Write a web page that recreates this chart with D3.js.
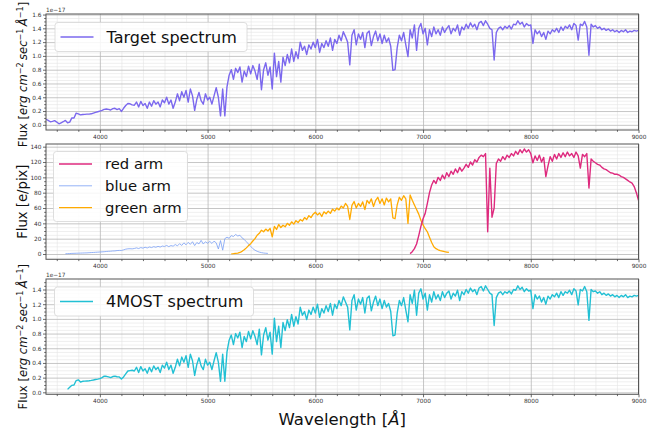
<!DOCTYPE html>
<html><head><meta charset="utf-8">
<script src="https://cdn.jsdelivr.net/npm/d3@7"></script>
<style>
body{margin:0;background:#fff}
svg{display:block}
text{font-family:"DejaVu Sans",sans-serif}
</style>
</head><body>
<svg id="chart" width="659" height="428"></svg>
<script>
// ---------------- data ----------------
const xTicks = [4000, 5000, 6000, 7000, 8000, 9000];
const fluxTicksTop = [0, 0.2, 0.4, 0.6, 0.8, 1.0, 1.2, 1.4, 1.6];
const countTicks = [0, 20, 40, 60, 80, 100, 120, 140];
const fluxTicksBottom = [0, 0.2, 0.4, 0.6, 0.8, 1.0, 1.2, 1.4];
const sampleStep = 20; // Angstrom between samples

// Target spectrum (1e-17 erg/cm2/s/A), from 3500 A
const targetStart = 3500;
const targetFlux = [
 .08,.065,.045,.05,.06,.04,.015,.03,.045,.065,
 .03,.04,.10,.10,.17,.16,.145,.15,.152,.155,
 .156,.16,.17,.18,.19,.20,.21,.225,.23,.225,
 .215,.235,.24,.222,.235,.195,.24,.28,.31,.305,
 .29,.285,.33,.26,.34,.28,.31,.24,.33,.27,
 .35,.30,.33,.26,.36,.32,.40,.30,.36,.24,
 .33,.45,.35,.48,.40,.50,.33,.52,.42,.21,
 .37,.47,.35,.30,.45,.36,.40,.30,.42,.54,
 .40,.13,.52,.13,.55,.72,.80,.66,.82,.76,
 .84,.62,.78,.70,.85,.74,.86,.78,.66,.88,
 .51,.80,.90,.72,.84,.52,1.04,.70,.92,.62,
 .98,.86,1.02,.90,1.10,.92,1.06,.96,1.20,1.08,
 1.14,1.02,1.16,1.10,1.20,1.12,1.24,1.05,1.18,1.12,
 1.22,1.14,1.26,1.08,1.24,1.18,1.30,1.22,1.35,1.28,
 1.20,.87,1.30,1.38,1.16,1.32,1.24,1.34,1.12,1.33,
 1.36,1.15,1.28,1.36,1.22,1.32,1.18,1.30,1.20,1.26,
 1.14,.79,.80,1.12,1.30,1.22,1.34,1.16,.99,1.38,
 1.26,1.45,1.08,1.40,1.47,1.32,1.40,1.16,1.38,1.28,
 1.42,1.32,1.38,1.30,1.42,1.34,1.40,1.44,1.32,1.40,
 1.36,1.45,1.30,1.42,1.38,1.46,1.40,1.48,1.42,1.46,
 1.38,1.48,1.50,1.44,1.51,1.46,1.40,1.38,.94,1.34,
 1.40,1.42,1.38,1.43,1.40,1.44,1.39,1.46,1.45,1.51,
 1.46,1.49,1.42,1.47,1.44,1.45,1.18,1.38,1.32,1.36,
 1.28,1.34,1.24,1.36,1.32,1.38,1.35,1.40,1.34,1.42,
 1.37,1.43,1.40,1.45,1.38,1.47,1.44,1.23,1.46,1.44,
 1.50,1.42,1.01,1.46,1.42,1.44,1.40,1.42,1.38,1.40,
 1.37,1.39,1.36,1.38,1.35,1.37,1.34,1.37,1.35,1.38,
 1.34,1.36,1.35,1.37,1.36,1.37
];

// 4MOST simulated spectrum, from 3700 A
const mostStart = 3700;
const mostFlux = [
 .04,.07,.095,.10,.16,.17,.14,.15,.152,.155,
 .158,.162,.168,.175,.18,.186,.20,.22,.218,.21,
 .20,.215,.22,.212,.21,.18,.21,.25,.29,.295,
 .30,.29,.34,.27,.35,.29,.32,.26,.34,.28,
 .36,.31,.34,.27,.37,.33,.41,.31,.37,.26,
 .34,.45,.36,.48,.41,.50,.34,.52,.43,.23,
 .38,.47,.36,.31,.45,.37,.41,.31,.43,.54,
 .41,.15,.52,.15,.55,.71,.78,.65,.80,.74,
 .82,.61,.76,.69,.83,.73,.84,.76,.65,.86,
 .51,.78,.88,.71,.82,.52,1.01,.69,.90,.61,
 .95,.84,.99,.88,1.06,.90,1.03,.93,1.16,1.05,
 1.10,.99,1.12,1.06,1.16,1.08,1.20,1.02,1.14,1.08,
 1.18,1.10,1.21,1.05,1.20,1.14,1.25,1.18,1.30,1.23,
 1.16,.85,1.25,1.33,1.12,1.27,1.20,1.29,1.08,1.28,
 1.31,1.11,1.23,1.31,1.18,1.27,1.14,1.25,1.16,1.21,
 1.10,.77,.78,1.08,1.25,1.18,1.29,1.12,.96,1.33,
 1.21,1.39,1.05,1.35,1.41,1.27,1.35,1.12,1.33,1.23,
 1.37,1.27,1.33,1.25,1.37,1.29,1.35,1.38,1.27,1.35,
 1.31,1.39,1.25,1.37,1.33,1.40,1.35,1.42,1.37,1.40,
 1.33,1.42,1.44,1.38,1.45,1.40,1.35,1.33,.91,1.29,
 1.35,1.37,1.33,1.37,1.35,1.38,1.34,1.40,1.39,1.45,
 1.40,1.43,1.37,1.41,1.38,1.39,1.14,1.33,1.27,1.31,
 1.23,1.29,1.20,1.31,1.27,1.33,1.30,1.35,1.29,1.37,
 1.32,1.37,1.35,1.39,1.33,1.41,1.38,1.19,1.40,1.38,
 1.44,1.37,.98,1.40,1.37,1.38,1.35,1.37,1.33,1.35,
 1.32,1.34,1.31,1.33,1.30,1.32,1.29,1.32,1.30,1.33,
 1.29,1.31,1.30,1.32,1.31,1.32
];

// Arm counts (e/pix)
const blueStart = 3680;
const blueCounts = [
 .3,.5,.6,.8,.9,1.0,1.1,1.2,1.3,1.4,
 1.5,1.7,1.9,2.0,2.2,2.4,2.6,2.8,3.0,3.3,
 3.5,3.7,4.0,4.1,4.5,4.7,4.6,5.4,6.3,6.8,
 6.9,6.7,7.2,8.0,7.1,8.4,7.6,8.8,7.9,9.2,
 8.4,9.6,8.8,10.0,9.1,10.4,9.8,11.2,9.6,11.0,
 10.2,12.4,10.6,13.5,11.2,14.6,12.0,15.2,12.6,16.0,
 11.0,15.0,13.2,17.8,13.0,16.0,14.0,16.5,13.8,16.8,
 14.5,6.5,17.5,5.0,20.0,22.0,20.5,24.0,22.8,25.5,
 23.5,24.5,21.0,19.0,16.0,13.0,10.0,7.0,5.0,3.5,
 2.5,1.8,1.3,1.0,0.8
];
const greenStart = 5220;
const greenCounts = [
 .2,.4,.8,1.2,2.0,3.5,5.5,8.0,11.0,13.5,
 17.0,20.0,24.5,27.0,31.0,29.0,32.5,30.0,33.5,22.5,
 36.0,32.0,38.5,34.5,37.5,35.5,40.0,37.5,42.0,39.0,
 43.5,41.0,45.0,43.0,47.5,45.0,50.0,47.5,52.0,54.5,
 51.0,53.5,49.0,55.0,52.5,56.0,53.0,58.5,56.0,60.0,
 57.5,62.5,60.0,66.0,62.0,45.0,63.5,68.5,60.0,66.0,
 62.0,68.0,58.0,70.0,66.0,72.0,62.0,70.0,74.0,66.0,
 72.0,64.0,73.0,68.0,72.0,47.0,46.0,64.0,74.0,70.0,
 76.0,72.0,40.0,77.0,70.0,64.0,58.0,52.0,44.0,38.0,
 33.0,29.0,22.0,15.0,9.5,7.0,5.5,4.5,3.8,3.0,
 2.5,2.0
];
const redStart = 6880;
const redCounts = [
 .5,3,7,13,24,36,46,53,66,80,
 90,96,92,100,96,103,98,106,101,108,
 104,111,106,113,108,112,117,113,120,116,
 123,120,126,129,127,131,29,112,48,60,
 118,124,121,127,123,129,126,131,128,134,
 130,136,132,137,133,136,131,119,128,122,
 129,120,126,101,115,127,121,130,124,131,
 126,132,127,133,128,131,126,133,128,112,
 130,127,131,86,124,121,119,117,116,113,
 111,110,108,106,105.5,104,104,103,101,100,
 98,96,94,92.5,88,80,70
];

// ---------------- drawing ----------------
const svg = d3.select('#chart');
const L = 46, R = 638.5;
const x = d3.scaleLinear().domain([3500, 9000]).range([L, R]);
const xMinor = d3.range(3600, 9000, 200).filter(v => v % 1000 !== 0);

const tickFont = 5.8;
const tickColor = '#333';

function series(start, vals) { return vals.map((v, i) => [start + i * sampleStep, v]); }

function drawPanel(p) {
  const y = d3.scaleLinear().domain(p.domain).range([p.bottom, p.top]);
  const h = p.bottom - p.top;
  const g = svg.append('g');
  const yMinor = d3.range(p.ticks[0], p.domain[1], p.minorStep)
     .filter(v => v > p.domain[0] && !p.ticks.some(t => Math.abs(t - v) < 1e-9));
  const yMinorAll = yMinor.concat(d3.range(p.ticks[0] - p.minorStep, p.domain[0], -p.minorStep));

  const styleGrid = (color, wdt) => s => {
    s.select('.domain').remove();
    s.selectAll('line').attr('stroke', color).attr('stroke-width', wdt);
    s.selectAll('text').remove();
  };
  // minor grids
  g.append('g').attr('transform', `translate(0,${p.bottom})`)
    .call(d3.axisBottom(x).tickValues(xMinor).tickSize(-h).tickFormat(''))
    .call(styleGrid('#e4e4e4', 0.6));
  g.append('g').attr('transform', `translate(${L},0)`)
    .call(d3.axisLeft(y).tickValues(yMinorAll).tickSize(-(R - L)).tickFormat(''))
    .call(styleGrid('#e4e4e4', 0.6));
  // major grids
  g.append('g').attr('transform', `translate(0,${p.bottom})`)
    .call(d3.axisBottom(x).tickValues(xTicks).tickSize(-h).tickFormat(''))
    .call(styleGrid('#b8b8b8', 0.8));
  g.append('g').attr('transform', `translate(${L},0)`)
    .call(d3.axisLeft(y).tickValues(p.ticks).tickSize(-(R - L)).tickFormat(''))
    .call(styleGrid('#b8b8b8', 0.8));

  // clip
  const cid = 'clip' + p.id;
  svg.append('clipPath').attr('id', cid).append('rect')
    .attr('x', L).attr('y', p.top).attr('width', R - L).attr('height', h);

  const line = d3.line().x(d => x(d[0])).y(d => y(d[1]));
  const lg = g.append('g').attr('clip-path', `url(#${cid})`);
  p.lines.forEach(s => {
    lg.append('path').datum(series(s.start, s.values))
      .attr('d', line).attr('fill', 'none')
      .attr('stroke', s.color).attr('stroke-width', s.width)
      .attr('stroke-linejoin', 'round');
  });

  // spines
  g.append('rect').attr('x', L).attr('y', p.top).attr('width', R - L).attr('height', h)
    .attr('fill', 'none').attr('stroke', '#555').attr('stroke-width', 1);

  // ticks
  const styleAxis = s => {
    s.select('.domain').remove();
    s.selectAll('line').attr('stroke', '#444').attr('stroke-width', 0.8);
    s.selectAll('text').attr('fill', tickColor).style('font-size', tickFont + 'px')
      .style('font-family', '"DejaVu Sans", sans-serif');
  };
  g.append('g').attr('transform', `translate(0,${p.bottom})`)
    .call(d3.axisBottom(x).tickValues(xTicks).tickSize(3).tickPadding(2).tickFormat(d3.format('d')))
    .call(styleAxis);
  g.append('g').attr('transform', `translate(0,${p.bottom})`)
    .call(d3.axisBottom(x).tickValues(xMinor).tickSize(1.8).tickFormat(''))
    .call(styleAxis);
  g.append('g').attr('transform', `translate(${L},0)`)
    .call(d3.axisLeft(y).tickValues(p.ticks).tickSize(3).tickPadding(1.5).tickFormat(p.fmt))
    .call(styleAxis);
  g.append('g').attr('transform', `translate(${L},0)`)
    .call(d3.axisLeft(y).tickValues(yMinor).tickSize(1.8).tickFormat(''))
    .call(styleAxis);

  if (p.offset) {
    g.append('text').attr('x', L).attr('y', p.top - 2.5).text('1e\u221217')
      .attr('fill', tickColor).style('font-size', tickFont + 'px');
  }

  // legend
  const lgd = p.legend;
  g.append('rect').attr('x', lgd.x).attr('y', lgd.y).attr('width', lgd.w).attr('height', lgd.h)
    .attr('rx', 3).attr('fill', 'rgba(255,255,255,0.85)').attr('stroke', '#d5d5d5').attr('stroke-width', 0.8);
  p.lines.slice().sort((a, b) => a.order - b.order).forEach((s, i) => {
    const yy = lgd.y0 + i * lgd.dy;
    g.append('line').attr('x1', lgd.x + 5.5).attr('x2', lgd.x + 38.5).attr('y1', yy).attr('y2', yy)
      .attr('stroke', s.color).attr('stroke-width', s.width);
    g.append('text').attr('x', lgd.x + 51.5).attr('y', yy + lgd.fs * 0.36)
      .style('font-size', lgd.fs + 'px').attr('fill', '#111').text(s.label);
  });

  // y label
  drawYLabel(p);
}

function drawYLabel(p) {
  const cy = (p.top + p.bottom) / 2 + (p.labelShift || 0);
  const fs = p.unit === 'counts' ? 13.2 : 11.6;
  const t = svg.append('text').attr('transform', `translate(27.3,${cy}) rotate(-90)`)
    .attr('text-anchor', 'middle').style('font-size', fs + 'px').attr('fill', '#111');
  if (p.unit === 'counts') { t.text('Flux [e/pix]'); return; }
  const sup = fs * 0.7, up = fs * 0.38;
  t.append('tspan').text('Flux [');
  t.append('tspan').style('font-style', 'italic').text('erg cm');
  t.append('tspan').attr('dy', -up).style('font-size', sup + 'px').text('\u22122');
  t.append('tspan').attr('dy', up).style('font-style', 'italic').text('\u2009sec');
  t.append('tspan').attr('dy', -up).style('font-size', sup + 'px').text('\u22121');
  t.append('tspan').attr('dy', up).style('font-style', 'italic').text('\u2009\u00C5');
  t.append('tspan').attr('dy', -up).style('font-size', sup + 'px').text('\u22121');
  t.append('tspan').attr('dy', up).text(']');
}

const panels = [
  { id: 1, top: 14, bottom: 130, domain: [-0.075, 1.608], ticks: fluxTicksTop, minorStep: 0.05,
    fmt: d3.format('.1f'), offset: true, unit: 'flux', labelShift: 2.5,
    lines: [{ start: targetStart, values: targetFlux, color: '#7b68ee', width: 1.4, label: 'Target spectrum', order: 0 }],
    legend: { x: 55, y: 22.5, w: 192, h: 29, y0: 37, dy: 0, fs: 16 } },
  { id: 2, top: 144, bottom: 259.3, domain: [-6.9, 143.5], ticks: countTicks, minorStep: 5,
    fmt: d3.format('d'), offset: false, unit: 'counts',
    lines: [
      { start: blueStart, values: blueCounts, color: '#7aa0f5', width: 0.8, label: 'blue arm', order: 1 },
      { start: greenStart, values: greenCounts, color: '#ffaa00', width: 1.3, label: 'green arm', order: 2 },
      { start: redStart, values: redCounts, color: '#de2a7e', width: 1.4, label: 'red arm', order: 0 }],
    legend: { x: 53.5, y: 151.5, w: 134, h: 70, y0: 164, dy: 21.8, fs: 14.8 } },
  { id: 3, top: 279, bottom: 394.3, domain: [-0.027, 1.543], ticks: fluxTicksBottom, minorStep: 0.05,
    fmt: d3.format('.1f'), offset: true, unit: 'flux',
    lines: [{ start: mostStart, values: mostFlux, color: '#22c0d4', width: 1.4, label: '4MOST spectrum', order: 0 }],
    legend: { x: 54.5, y: 287, w: 199, h: 29, y0: 301.5, dy: 0, fs: 16 } }
];

panels.forEach(drawPanel);

// x label
const xl = svg.append('text').attr('x', (L + R) / 2).attr('y', 424.5).attr('text-anchor', 'middle')
  .style('font-size', '16.5px').attr('fill', '#111');
xl.append('tspan').text('Wavelength [');
xl.append('tspan').style('font-style', 'italic').text('\u00C5');
xl.append('tspan').text(']');
</script>
</body></html>
